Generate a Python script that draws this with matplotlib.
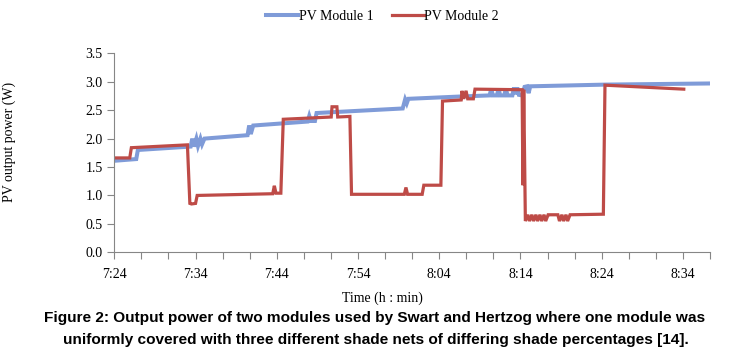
import matplotlib.pyplot as plt
from matplotlib.ticker import FixedLocator

# minutes after 7:24
mod1_t = [0.0, 2.7, 2.9, 9.4, 9.6, 9.8, 10.1, 10.3, 10.6, 10.8, 11.1, 16.4, 16.6, 16.8, 17.1,
          23.8, 24.0, 24.2, 24.7, 24.9, 35.5, 35.8, 36.0, 36.2, 42.5, 46.2, 46.4, 46.6, 47.1,
          47.3, 47.5, 48.0, 48.2, 48.4, 49.0, 49.2, 49.4, 49.6, 49.8, 50.2, 50.5, 50.8, 51.0,
          51.2, 60.5, 73.3]
mod1_p = [1.61, 1.64, 1.80, 1.86, 2.00, 1.86, 2.00, 1.87, 2.00, 1.90, 2.00, 2.06, 2.23, 2.08, 2.23,
          2.30, 2.40, 2.31, 2.31, 2.45, 2.53, 2.69, 2.62, 2.70, 2.74, 2.76, 2.88, 2.76, 2.76,
          2.88, 2.76, 2.76, 2.88, 2.76, 2.76, 2.90, 2.78, 2.90, 2.77, 2.76, 2.91, 2.92, 2.80,
          2.92, 2.95, 2.97]

mod2_t = [0.0, 1.9, 2.1, 9.0, 9.3, 9.5, 10.0, 10.2, 19.5, 19.7, 19.9, 20.5, 20.8, 26.7, 26.8,
          27.4, 27.5, 29.0, 29.2, 35.7, 35.9, 36.1, 37.9, 38.1, 40.2, 40.4, 42.7, 42.8, 43.0,
          43.3, 43.5, 44.2, 44.4, 50.2, 50.3, 50.4, 50.6, 50.9, 51.1, 51.4, 51.6, 51.9, 52.1,
          52.4, 52.6, 52.9, 53.1, 53.4, 53.6, 54.6, 54.8, 55.1, 55.3, 55.6, 55.8, 56.1, 60.2,
          60.4, 70.1]
mod2_p = [1.66, 1.66, 1.84, 1.89, 0.86, 0.85, 0.86, 1.00, 1.03, 1.17, 1.04, 1.04, 2.34, 2.38, 2.56,
          2.56, 2.38, 2.39, 1.02, 1.02, 1.14, 1.02, 1.02, 1.18, 1.18, 2.66, 2.68, 2.84, 2.70,
          2.84, 2.70, 2.70, 2.87, 2.86, 1.18, 2.86, 0.55, 0.66, 0.55, 0.66, 0.55, 0.66, 0.55,
          0.66, 0.55, 0.66, 0.55, 0.66, 0.66, 0.66, 0.55, 0.66, 0.55, 0.66, 0.55, 0.66, 0.67,
          2.94, 2.87]

xtick_labels = ['7:24', '7:34', '7:44', '7:54', '8:04', '8:14', '8:24', '8:34']

serif = ['Liberation Serif', 'DejaVu Serif']
sans = ['Liberation Sans', 'DejaVu Sans']
grey = '#868686'

fig = plt.figure(figsize=(7.29, 3.58), dpi=100)
ax = fig.add_axes([0.1568, 0.2953, 0.8172, 0.5557])

ax.plot(mod1_t, mod1_p, color='#7F9BD8', lw=2.9, label='PV Module 1', solid_joinstyle='miter')
ax.plot(mod2_t, mod2_p, color='#BE4B47', lw=2.3, label='PV Module 2', solid_joinstyle='miter')

ax.set_xlim(0, 22 * 10 / 3)
ax.set_ylim(0, 3.5)
ax.set_yticks([0.0, 0.5, 1.0, 1.5, 2.0, 2.5, 3.0, 3.5])
ax.set_yticklabels(['%.1f' % v for v in ax.get_yticks()], family=serif, fontsize=10)
ax.set_xticks([i * 10 for i in range(len(xtick_labels))])
ax.set_xticklabels(xtick_labels, family=serif, fontsize=10)
ax.xaxis.set_minor_locator(FixedLocator([i * 10 / 3 for i in range(23)]))
ax.tick_params(axis='both', which='both', color=grey, length=5, width=0.8)
ax.tick_params(axis='x', which='major', pad=6)

for s in ['top', 'right']:
    ax.spines[s].set_visible(False)
for s in ['left', 'bottom']:
    ax.spines[s].set_color(grey)
    ax.spines[s].set_linewidth(0.8)

ax.set_ylabel('PV output power (W)', family=serif, fontsize=10)
ax.yaxis.set_label_coords(-0.165, 0.554)
fig.text(0.525, 0.168, 'Time (h : min)', family=serif, fontsize=10, ha='center', va='center')

fig.legend(loc='center', bbox_to_anchor=(0.525, 0.955), ncol=2, frameon=False,
           prop={'family': serif, 'size': 10}, handlelength=2.3, handletextpad=0.05,
           columnspacing=1.3)

fig.text(0.514, 0.112,
         'Figure 2: Output power of two modules used by Swart and Hertzog where one module was',
         family=sans, fontweight='bold', fontsize=11.1, ha='center', va='center')
fig.text(0.516, 0.05,
         'uniformly covered with three different shade nets of differing shade percentages [14].',
         family=sans, fontweight='bold', fontsize=11.1, ha='center', va='center')

fig.savefig('out.png', dpi=100)
